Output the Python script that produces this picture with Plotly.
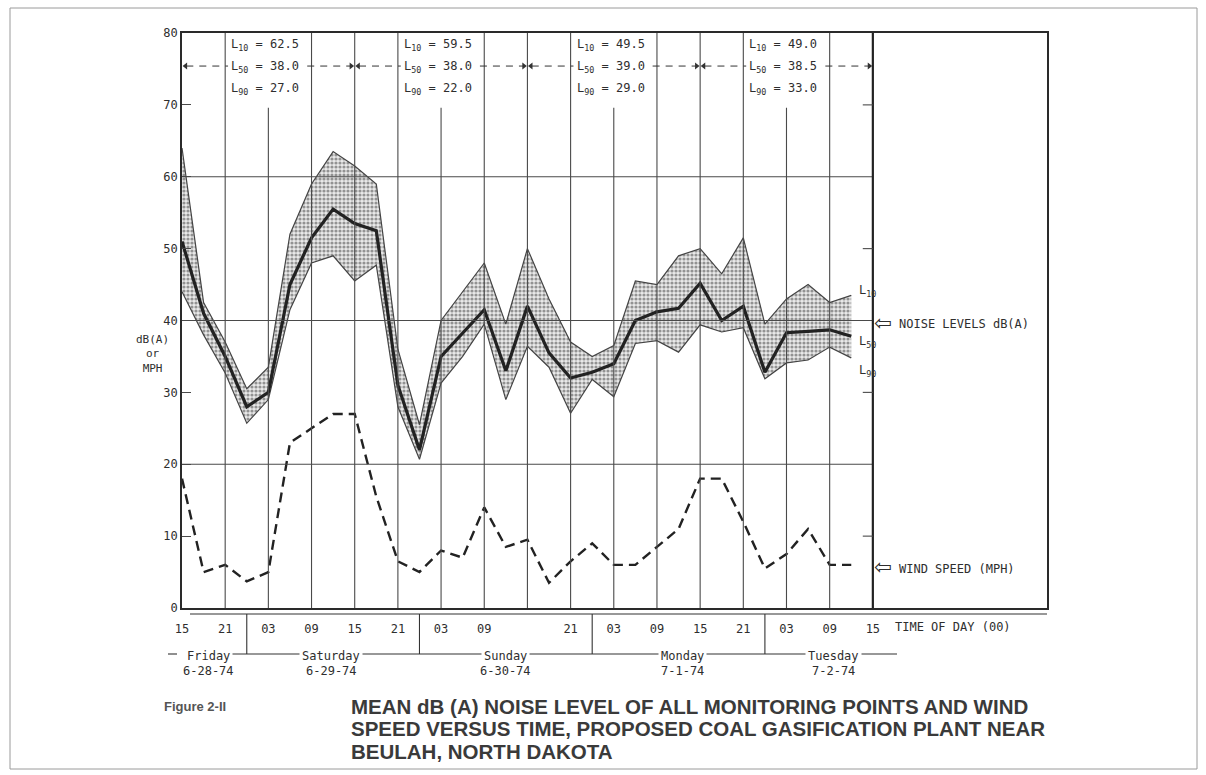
import plotly.graph_objects as go

# ---------------- data ----------------
hours = [0, 3, 6, 9, 12, 15, 18, 21, 24, 27, 30, 33, 36, 39, 42, 45,
         48, 51, 54, 57, 60, 63, 66, 69, 72, 75, 78, 81, 84, 87, 90, 93]
l10 = [64, 42.5, 37, 30.5, 33.5, 52, 59, 63.5, 61.5, 59, 36, 25.5, 40, 44, 48, 39.5,
       50, 43, 37, 35, 36.5, 45.5, 45, 49, 50, 46.5, 51.5, 39.5, 43, 45, 42.5, 43.5]
l50 = [51, 41, 35, 28, 30, 45, 51.5, 55.5, 53.5, 52.5, 31, 22, 35, 38.3, 41.5, 33,
       42, 35.5, 32, 32.8, 34, 40, 41.2, 41.7, 45.2, 40, 42, 32.8, 38.3, 38.5, 38.7, 37.8]
l90 = [44, 38, 32.7, 25.7, 29, 41.5, 48, 49, 45.5, 47.7, 28, 20.7, 31.3, 35, 39.5, 29,
       36.4, 33.5, 27.1, 31.8, 29.4, 36.8, 37.2, 35.6, 39.4, 38.4, 39, 31.9, 34.1, 34.5, 36.3, 34.8]
wind = [18, 5, 6, 3.7, 5, 23, 25, 27, 27, 15.5, 6.5, 5, 8, 7, 14, 8.5,
        9.5, 3.5, 6.5, 9, 6, 6, 8.5, 11, 18, 18, 12, 5.5, 7.5, 11, 6, 6]

tick_hours = [0, 6, 12, 18, 24, 30, 36, 42, 54, 60, 66, 72, 78, 84, 90, 96]
tick_text = ["15", "21", "03", "09", "15", "21", "03", "09", "21", "03", "09", "15", "21", "03", "09", "15"]

period_start = [0, 24, 48, 72]
period_end = [24, 48, 72, 96]
period_l10 = ["62.5", "59.5", "49.5", "49.0"]
period_l50 = ["38.0", "38.0", "39.0", "38.5"]
period_l90 = ["27.0", "22.0", "29.0", "33.0"]

day_names = ["Friday", "Saturday", "Sunday", "Monday", "Tuesday"]
day_dates = ["6-28-74", "6-29-74", "6-30-74", "7-1-74", "7-2-74"]
midnights = [9, 33, 57, 81]

y_ticks = [0, 10, 20, 30, 40, 50, 60, 70, 80]

# ---------------- layout geometry ----------------
W, H = 1206, 775
PL, PR, PT, PB = 182, 1047, 33, 608
XMAX = 120.2
MONO = "DejaVu Sans Mono"
INK = "#2e2e2e"
GRID = "#4a4a4a"


def px(xp):
    return (xp - PL) / (PR - PL)


def py(yp):
    return (PB - yp) / (PB - PT)


def hx(h):
    return PL + h * (PR - PL) / XMAX


fig = go.Figure()

# band L90 .. L10
fig.add_trace(go.Scatter(x=hours, y=l90, mode="lines",
                         line=dict(color="#444444", width=1.2), hoverinfo="skip", showlegend=False))
fig.add_trace(go.Scatter(x=hours, y=l10, mode="lines", fill="tonexty",
                         fillcolor="rgba(0,0,0,0)",
                         fillpattern=dict(shape=".", fgcolor="#3c3c3c", bgcolor="#e9e9e9",
                                          size=4, solidity=0.5),
                         line=dict(color="#444444", width=1.2), hoverinfo="skip", showlegend=False))
fig.add_trace(go.Scatter(x=hours, y=l50, mode="lines",
                         line=dict(color="#222222", width=3.2), showlegend=False))
fig.add_trace(go.Scatter(x=hours, y=wind, mode="lines",
                         line=dict(color="#222222", width=2.4, dash="10px,6px"), showlegend=False))

shapes = []
# horizontal grid lines
for g in [20, 40, 60]:
    shapes.append(dict(type="line", xref="x", yref="y", x0=0, x1=96, y0=g, y1=g,
                       line=dict(color=GRID, width=1.1)))
# vertical grid lines
for h in range(6, 96, 6):
    top = 69.6 if h in (12, 36, 60, 84) else 80
    shapes.append(dict(type="line", xref="x", yref="y", x0=h, x1=h, y0=0, y1=top,
                       line=dict(color=GRID, width=1.1)))
shapes.append(dict(type="line", xref="x", yref="y", x0=96, x1=96, y0=0, y1=80,
                   line=dict(color="#222", width=2.2)))
# right-side small ticks
for t in [10, 30, 50, 70]:
    shapes.append(dict(type="line", xref="x", yref="y", x0=94.6, x1=96, y0=t, y1=t,
                       line=dict(color=GRID, width=1.1)))
# dashed period arrows
for p0, p1 in zip(period_start, period_end):
    shapes.append(dict(type="line", xref="x", yref="y", x0=p0 + 0.6, x1=p0 + 6.4, y0=75.4, y1=75.4,
                       line=dict(color="#333", width=1, dash="7px,6px")))
    shapes.append(dict(type="line", xref="x", yref="y", x0=p0 + 17.4, x1=p1 - 0.6, y0=75.4, y1=75.4,
                       line=dict(color="#333", width=1, dash="7px,6px")))
# bottom structure
shapes.append(dict(type="line", xref="paper", yref="paper", x0=px(190), x1=px(1047),
                   y0=py(614), y1=py(614), line=dict(color="#333", width=1.2)))
for m in midnights:
    shapes.append(dict(type="line", xref="paper", yref="paper", x0=px(hx(m)), x1=px(hx(m)),
                       y0=py(614), y1=py(654), line=dict(color="#333", width=1.1)))
shapes.append(dict(type="line", xref="paper", yref="paper", x0=px(168), x1=px(177),
                   y0=py(654), y1=py(654), line=dict(color="#333", width=1.1)))
shapes.append(dict(type="line", xref="paper", yref="paper", x0=px(232), x1=px(897),
                   y0=py(654), y1=py(654), line=dict(color="#333", width=1.1)))
# page border
shapes.append(dict(type="rect", xref="paper", yref="paper", x0=px(10), x1=px(1197),
                   y0=py(769), y1=py(8), line=dict(color="#9a9a9a", width=1)))

# arrowheads for the period dashed lines
arrow_x, arrow_sym = [], []
for p0, p1 in zip(period_start, period_end):
    arrow_x += [p0 + 0.5, p1 - 0.5]
    arrow_sym += ["triangle-left", "triangle-right"]
fig.add_trace(go.Scatter(x=arrow_x, y=[75.4] * len(arrow_x), mode="markers",
                         marker=dict(symbol=arrow_sym, size=6, color="#333"),
                         hoverinfo="skip", showlegend=False))

ann = []
for p0, a, b, c in zip(period_start, period_l10, period_l50, period_l90):
    for yy, lab, val in [(78.4, "10", a), (75.3, "50", b), (72.2, "90", c)]:
        ann.append(dict(x=p0 + 6.7, y=yy, xref="x", yref="y", xanchor="left", yanchor="middle",
                        text=f"L<sub>{lab}</sub> = {val}", showarrow=False, bgcolor="white",
                        borderpad=0, font=dict(family=MONO, size=12, color=INK)))

# right labels
ann.append(dict(x=px(857), y=py(291), xref="paper", yref="paper", xanchor="left", yanchor="middle",
                text="L<sub>10</sub>", showarrow=False, font=dict(family=MONO, size=12, color=INK)))
ann.append(dict(x=px(857), y=py(342), xref="paper", yref="paper", xanchor="left", yanchor="middle",
                text="L<sub>50</sub>", showarrow=False, font=dict(family=MONO, size=12, color=INK)))
ann.append(dict(x=px(857), y=py(371), xref="paper", yref="paper", xanchor="left", yanchor="middle",
                text="L<sub>90</sub>", showarrow=False, font=dict(family=MONO, size=12, color=INK)))
ann.append(dict(x=px(872), y=py(323), xref="paper", yref="paper", xanchor="left", yanchor="middle",
                text="⇦", showarrow=False, font=dict(family="DejaVu Sans", size=21, color=INK)))
ann.append(dict(x=px(897), y=py(324), xref="paper", yref="paper", xanchor="left", yanchor="middle",
                text="NOISE LEVELS dB(A)", showarrow=False, font=dict(family=MONO, size=12, color=INK)))
ann.append(dict(x=px(872), y=py(567), xref="paper", yref="paper", xanchor="left", yanchor="middle",
                text="⇦", showarrow=False, font=dict(family="DejaVu Sans", size=21, color=INK)))
ann.append(dict(x=px(897), y=py(569), xref="paper", yref="paper", xanchor="left", yanchor="middle",
                text="WIND SPEED (MPH)", showarrow=False, font=dict(family=MONO, size=12, color=INK)))
ann.append(dict(x=px(893), y=py(627), xref="paper", yref="paper", xanchor="left", yanchor="middle",
                text="TIME OF DAY (00)", showarrow=False, font=dict(family=MONO, size=12, color=INK)))
# y title
ann.append(dict(x=px(152), y=py(354), xref="paper", yref="paper", xanchor="center", yanchor="middle",
                text="dB(A)<br>or<br>MPH", showarrow=False, align="center",
                font=dict(family=MONO, size=11, color=INK)))
# day labels
day_px = [208, 331, 505, 682, 833]
for cx, dn, dd in zip(day_px, day_names, day_dates):
    ann.append(dict(x=px(cx), y=py(656), xref="paper", yref="paper", xanchor="center", yanchor="middle",
                    text=dn, showarrow=False, bgcolor="white", borderpad=2,
                    font=dict(family=MONO, size=12, color=INK)))
    ann.append(dict(x=px(cx), y=py(671), xref="paper", yref="paper", xanchor="center", yanchor="middle",
                    text=dd, showarrow=False, font=dict(family=MONO, size=12, color=INK)))
# caption
ann.append(dict(x=px(162), y=py(706), xref="paper", yref="paper", xanchor="left", yanchor="middle",
                text="<b>Figure 2-II</b>", showarrow=False,
                font=dict(family="Liberation Sans", size=13, color="#555")))
cap_lines = ["MEAN dB (A) NOISE LEVEL OF ALL MONITORING POINTS AND WIND",
             "SPEED VERSUS TIME, PROPOSED COAL GASIFICATION PLANT NEAR",
             "BEULAH, NORTH DAKOTA"]
for i, line in enumerate(cap_lines):
    ann.append(dict(x=px(349), y=py(706 + i * 22.5), xref="paper", yref="paper", xanchor="left",
                    yanchor="middle", text=f"<b>{line}</b>", showarrow=False,
                    font=dict(family="Liberation Sans", size=20.5, color="#3a3a3a")))

fig.update_layout(
    width=W, height=H,
    margin=dict(l=PL, r=W - PR, t=PT, b=H - PB),
    paper_bgcolor="white", plot_bgcolor="white",
    shapes=shapes, annotations=ann, showlegend=False,
    xaxis=dict(range=[0, XMAX], showgrid=False, zeroline=False, showline=True, mirror=True,
               linecolor="#2a2a2a", linewidth=1.6, tickmode="array", tickvals=tick_hours,
               ticktext=tick_text, ticks="", ticklabelstandoff=9,
               tickfont=dict(family=MONO, size=12, color=INK), fixedrange=True),
    yaxis=dict(range=[0, 80], showgrid=False, zeroline=False, showline=True, mirror=True,
               linecolor="#2a2a2a", linewidth=1.6, tickmode="array", tickvals=y_ticks,
               ticks="inside", ticklen=9, tickcolor=GRID, tickwidth=1.1,
               tickfont=dict(family=MONO, size=12, color=INK), fixedrange=True),
)

fig.write_html("out.html")
